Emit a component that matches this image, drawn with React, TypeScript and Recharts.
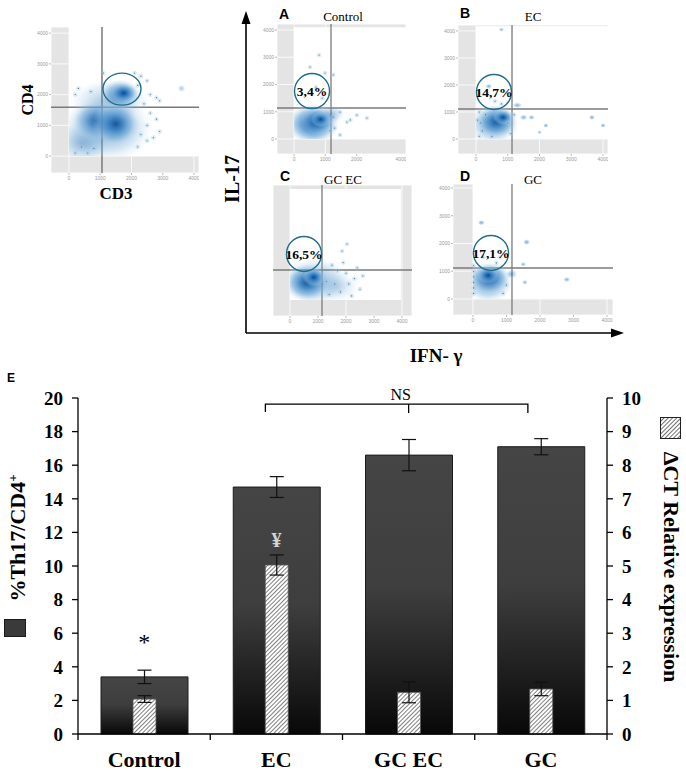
import React from "react";
import {
  ScatterChart,
  Scatter,
  XAxis,
  YAxis,
  CartesianGrid,
  ReferenceLine,
  ReferenceArea,
  ReferenceDot,
  ComposedChart,
  Bar,
  ErrorBar,
} from "recharts";

const SERIF = "'Liberation Serif', 'Times New Roman', serif";
const SANS = "'Liberation Sans', Arial, sans-serif";

// ---- panel E: bar chart data ----
const groups = ["Control", "EC", "GC EC", "GC"];
const th17Pct = [3.4, 14.7, 16.6, 17.1];
const th17Err = [0.4, 0.62, 0.93, 0.48];
const dctExpr = [1.04, 5.03, 1.24, 1.34];
const dctErr = [0.1, 0.3, 0.31, 0.2];
const pctTicks = [0, 2, 4, 6, 8, 10, 12, 14, 16, 18, 20];
const dctTicks = [0, 1, 2, 3, 4, 5, 6, 7, 8, 9, 10];

// ---- flow cytometry panels ----
const flowTicks = [0, 1000, 2000, 3000, 4000];
// density blobs: x, y, spread x, spread y, weight
const cd3cd4Blobs = [
  [1200, 900, 1500, 1100, 0.5],
  [1300, 1800, 1300, 700, 0.3],
  [400, 400, 900, 700, 0.35],
  [850, 1150, 750, 650, 0.75],
  [1500, 1050, 750, 700, 0.9],
  [1650, 2000, 650, 500, 0.8],
  [1750, 2050, 420, 320, 1],
  [3600, 2200, 130, 130, 0.3],
];
const cd3cd4Dots = [
  [2300, 2600], [2500, 2450], [2200, 2300], [2600, 2000], [2800, 1900], [2900, 1800],
  [2400, 1700], [2600, 1400], [2800, 1200], [2500, 1000], [2900, 800], [2300, 700],
  [2500, 500], [2700, 600], [2200, 300], [400, 300], [200, 100], [600, 100],
  [800, 250], [300, 2200], [200, 2000], [700, 2100], [2100, 2700], [1100, 2700],
];
const controlBlobs = [
  [600, 550, 850, 750, 1],
  [750, 650, 550, 500, 0.9],
  [1200, 900, 400, 350, 0.35],
  [850, 720, 320, 280, 1],
];
const controlDots = [
  [800, 3080], [510, 2640], [990, 2420], [1250, 2350], [700, 1900], [900, 1500],
  [1470, 990], [2010, 880], [2330, 770], [1690, 620], [1470, 150], [1300, 400],
  [1250, 800], [1800, 700], [1150, 300],
];
const ecBlobs = [
  [550, 550, 800, 750, 0.6],
  [650, 650, 650, 600, 0.85],
  [850, 800, 320, 280, 1],
  [2200, 500, 90, 90, 0.5],
  [2000, 250, 80, 80, 0.4],
  [3650, 800, 100, 100, 0.5],
  [4000, 500, 90, 90, 0.5],
  [1500, 800, 130, 110, 0.45],
  [1750, 800, 110, 100, 0.45],
  [1300, 1250, 160, 110, 0.45],
  [400, 1950, 120, 100, 0.45],
  [800, 4050, 90, 90, 0.4],
];
const ecDots = [
  [100, 100], [200, 300], [150, 600], [300, 900], [100, 1000], [500, 100],
  [1100, 200], [1000, 600], [1200, 900], [50, 700], [800, 1300], [600, 1400],
];
const gcecBlobs = [
  [900, 700, 1200, 900, 0.45],
  [1700, 500, 800, 600, 0.2],
  [600, 650, 800, 700, 0.9],
  [850, 850, 400, 350, 1],
];
const gcecDots = [
  [2036, 2090], [1860, 1830], [1500, 1300], [1700, 1100], [2000, 1000], [2300, 800],
  [2100, 600], [2500, 400], [1800, 300], [1400, 200], [2600, 900], [1300, 700],
  [1600, 600], [2200, 150], [1900, 1400], [2400, 1200],
];
const gcBlobs = [
  [450, 600, 750, 750, 0.6],
  [500, 750, 600, 550, 0.85],
  [450, 850, 320, 300, 1],
  [250, 2750, 110, 100, 0.5],
  [1600, 2050, 110, 110, 0.5],
  [1500, 1250, 90, 90, 0.45],
  [1550, 600, 90, 90, 0.45],
  [2800, 700, 110, 100, 0.45],
  [1150, 900, 180, 180, 0.4],
];
const gcDots = [
  [20, 200], [20, 400], [20, 600], [20, 800], [20, 1000], [20, 1200],
  [900, 200], [1000, 500], [700, 1300], [300, 1500], [800, 1500],
];
const gatePcts = ["", "3,4%", "14,7%", "16,5%", "17,1%"];
const gateCenters = [[1696, 2179], [575, 1761], [567, 1741], [500, 1720], [537, 1658]];
const quadrantCuts = [[1056, 1593], [1182, 1138], [1134, 1111], [1143, 1121], [1164, 1117]];
const panelTitles = ["", "Control", "EC", "GC EC", "GC"];
const panelLetters = ["", "A", "B", "C", "D"];

const Y_W = 18;
const X_H = 12;

type Panel = {
  id: string;
  left: number;
  top: number;
  w: number;
  h: number;
  xDomain: [number, number];
  yDomain: [number, number];
  white: [number, number];
  blobs: number[][];
  dots: number[][];
  idx: number;
  showY: boolean;
};

const panels: Panel[] = [
  { id: "p0", left: 51, top: 27, w: 148, h: 146, xDomain: [-575, 4160], yDomain: [-550, 4200], white: [4160, 4200], blobs: cd3cd4Blobs, dots: cd3cd4Dots, idx: 0, showY: true },
  { id: "pa", left: 277, top: 24, w: 129, h: 130, xDomain: [-545, 3580], yDomain: [-550, 4220], white: [3580, 4100], blobs: controlBlobs, dots: controlDots, idx: 1, showY: true },
  { id: "pb", left: 458, top: 25, w: 150, h: 129, xDomain: [-567, 4157], yDomain: [-555, 4220], white: [4157, 4170], blobs: ecBlobs, dots: ecDots, idx: 2, showY: true },
  { id: "pc", left: 273, top: 185, w: 139, h: 131, xDomain: [-607, 4357], yDomain: [-600, 4300], white: [3960, 4150], blobs: gcecBlobs, dots: gcecDots, idx: 3, showY: false },
  { id: "pd", left: 453, top: 184, w: 160, h: 131, xDomain: [-597, 4180], yDomain: [-577, 4144], white: [4180, 4144], blobs: gcBlobs, dots: gcDots, idx: 4, showY: true },
];

function FlowPanel({ p }: { p: Panel }) {
  const kx = p.w / (p.xDomain[1] - p.xDomain[0]);
  const ky = p.h / (p.yDomain[1] - p.yDomain[0]);
  const blobData = p.blobs.map(([x, y, sx, sy, a]) => ({ x, y, sx, sy, a }));
  const dotData = p.dots.map(([x, y]) => ({ x, y }));
  const [gx, gy] = gateCenters[p.idx];
  const [vx, hy] = quadrantCuts[p.idx];
  const isMain = p.idx === 0;
  const tickStyle = { fontSize: 5, fill: "#9a9a9a", fontFamily: SANS };
  // events sit in the non-negative data region; clip the density to it
  const clipX = Y_W + (0 - p.xDomain[0]) * kx;
  const clipY = (p.yDomain[1] - p.white[1]) * ky;
  const clipW = p.white[0] * kx;
  const clipH = p.white[1] * ky;
  return (
    <div style={{ position: "absolute", left: p.left - Y_W, top: p.top }}>
      <ScatterChart width={p.w + Y_W} height={p.h + X_H} margin={{ top: 0, right: 0, bottom: 0, left: 0 }}>
        <defs>
          <radialGradient id={`blob-${p.id}`}>
            <stop offset="0" stopColor="#0a4a90" stopOpacity={1} />
            <stop offset="0.3" stopColor="#2a78bd" stopOpacity={0.9} />
            <stop offset="0.65" stopColor="#6aa6d6" stopOpacity={0.6} />
            <stop offset="1" stopColor="#c6dbef" stopOpacity={0} />
          </radialGradient>
          <clipPath id={`clip-${p.id}`}>
            <rect x={clipX} y={clipY} width={clipW} height={clipH} />
          </clipPath>
        </defs>
        <CartesianGrid fill="#e4e4e4" stroke="#ffffff" strokeWidth={0.8} />
        <XAxis
          type="number"
          dataKey="x"
          domain={p.xDomain}
          ticks={flowTicks}
          allowDataOverflow
          height={X_H}
          axisLine={false}
          tickSize={2}
          tickMargin={1}
          tickLine={{ stroke: "#bbb" }}
          tick={tickStyle}
        />
        <YAxis
          type="number"
          dataKey="y"
          domain={p.yDomain}
          ticks={flowTicks}
          allowDataOverflow
          width={Y_W}
          axisLine={false}
          tickSize={2}
          tickMargin={1}
          tickLine={{ stroke: "#bbb" }}
          tick={p.showY ? tickStyle : false}
        />
        <ReferenceArea x1={0} x2={p.white[0]} y1={0} y2={p.white[1]} fill="#ffffff" fillOpacity={1} stroke="none" ifOverflow="hidden" />
        <Scatter
          data={blobData}
          isAnimationActive={false}
          shape={(s: any) => (
            <ellipse
              cx={s.cx}
              cy={s.cy}
              rx={s.payload.sx * kx}
              ry={s.payload.sy * ky}
              fill={`url(#blob-${p.id})`}
              opacity={s.payload.a}
              clipPath={`url(#clip-${p.id})`}
            />
          )}
        />
        <Scatter
          data={dotData}
          isAnimationActive={false}
          shape={(s: any) => (
            <g>
              <circle cx={s.cx} cy={s.cy} r={2.4} fill="#9ecae1" fillOpacity={0.35} />
              <circle cx={s.cx} cy={s.cy} r={0.6} fill="#4a6f96" />
            </g>
          )}
        />
        <ReferenceLine x={vx} stroke="#7a7a7a" strokeWidth={isMain ? 1.5 : 1.3} />
        <ReferenceLine y={hy} stroke="#7a7a7a" strokeWidth={isMain ? 1.5 : 1.3} />
        <ReferenceDot
          x={gx}
          y={gy}
          r={18}
          shape={(s: any) => (
            <g>
              {isMain ? (
                <ellipse cx={s.cx} cy={s.cy} rx={19} ry={16} fill="none" stroke="#1f6f8b" strokeWidth={1.4} />
              ) : (
                <circle cx={s.cx} cy={s.cy} r={17.5} fill="none" stroke="#1f6f8b" strokeWidth={1.4} />
              )}
              <text
                x={s.cx}
                y={s.cy + 5}
                textAnchor="middle"
                fontFamily={SERIF}
                fontWeight={700}
                fontSize={13.5}
                fill="#000"
              >
                {gatePcts[p.idx]}
              </text>
            </g>
          )}
        />
      </ScatterChart>
    </div>
  );
}

// ---- panel E helpers ----
const barData = groups.map((g, i) => ({
  group: g,
  th17: th17Pct[i],
  th17Err: th17Err[i],
  dct: dctExpr[i],
  dctErr: dctErr[i],
}));

const E_LEFT = 38;
const E_RIGHT = 39;
const E_AXIS_W = 40;
const E_WIDTH = 686;
const BAND = (E_WIDTH - E_LEFT - E_RIGHT - 2 * E_AXIS_W) / groups.length;

function CategoryTick(props: any) {
  const { x, y, payload, index } = props;
  const axisY = y - 6;
  return (
    <g>
      <line x1={x - BAND / 2} y1={axisY} x2={x - BAND / 2} y2={axisY + 6} stroke="#000" strokeWidth={1.3} />
      {index === groups.length - 1 && (
        <line x1={x + BAND / 2} y1={axisY} x2={x + BAND / 2} y2={axisY + 6} stroke="#000" strokeWidth={1.3} />
      )}
      <text x={x} y={axisY + 33} textAnchor="middle" fontFamily={SERIF} fontWeight={700} fontSize={22} fill="#000">
        {payload.value}
      </text>
    </g>
  );
}

const axisTick = { fontSize: 19, fontWeight: 700, fill: "#000", fontFamily: SERIF };

function HatchSwatch({ w, h }: { w: number; h: number }) {
  return (
    <svg width={w} height={h} style={{ display: "block" }}>
      <defs>
        <pattern id="hatch-swatch" patternUnits="userSpaceOnUse" width="3" height="3" patternTransform="rotate(45)">
          <rect width="3" height="3" fill="#fff" />
          <line x1="0" y1="0" x2="0" y2="3" stroke="#333" strokeWidth="1.4" />
        </pattern>
      </defs>
      <rect x={0.5} y={0.5} width={w - 1} height={h - 1} fill="url(#hatch-swatch)" stroke="#222" strokeWidth={1} />
    </svg>
  );
}

function rotLabel(cx: number, cy: number, deg: number, size: number, content: React.ReactNode, extra: React.CSSProperties = {}) {
  return (
    <div
      style={{
        position: "absolute",
        left: cx,
        top: cy,
        transform: `translate(-50%, -50%) rotate(${deg}deg)`,
        whiteSpace: "nowrap",
        fontFamily: SERIF,
        fontWeight: 700,
        fontSize: size,
        lineHeight: 1,
        color: "#000",
        ...extra,
      }}
    >
      {content}
    </div>
  );
}

export default function App() {
  return (
    <div style={{ position: "absolute", left: 0, top: 0, width: 686, height: 772, background: "#fff", overflow: "hidden" }}>
      {/* big IL-17 / IFN-γ axes */}
      <svg width={686} height={360} style={{ position: "absolute", left: 0, top: 0 }}>
        <line x1={246} y1={333} x2={246} y2={22} stroke="#000" strokeWidth={1.6} />
        <polygon points="246,11 241.5,24 250.5,24" fill="#000" />
        <line x1={246} y1={333} x2={613} y2={333} stroke="#000" strokeWidth={1.6} />
        <polygon points="624,333 611,328.5 611,337.5" fill="#000" />
      </svg>

      {panels.map((p) => (
        <FlowPanel key={p.id} p={p} />
      ))}

      {/* flow panel labels */}
      {rotLabel(28, 100, -90, 16, "CD4")}
      {rotLabel(116, 193, 0, 17, "CD3")}
      {rotLabel(232, 179, -90, 20, "IL-17")}
      {rotLabel(436, 355, 0, 19, "IFN- γ")}
      {panels.slice(1).map((p, i) => (
        <React.Fragment key={p.id}>
          {rotLabel([284, 465, 285, 465][i], [14, 13, 176, 176][i], 0, 14, panelLetters[p.idx], { fontFamily: SANS })}
          {rotLabel([343, 533, 343, 533][i], [16, 16, 179, 179][i], 0, 13, panelTitles[p.idx], { fontWeight: 400 })}
        </React.Fragment>
      ))}

      {/* panel E */}
      {rotLabel(11, 378, 0, 12, "E", { fontFamily: SANS })}
      <div style={{ position: "absolute", left: 0, top: 370 }}>
        <ComposedChart
          width={E_WIDTH}
          height={402}
          data={barData}
          margin={{ top: 28, right: E_RIGHT, left: E_LEFT, bottom: 0 }}
        >
          <defs>
            <linearGradient id="darkBar" x1="0" y1="0" x2="0" y2="1">
              <stop offset="0" stopColor="#454545" />
              <stop offset="0.48" stopColor="#3e3e3e" />
              <stop offset="1" stopColor="#080808" />
            </linearGradient>
            <pattern id="hatch" patternUnits="userSpaceOnUse" width="3" height="3" patternTransform="rotate(45)">
              <rect width="3" height="3" fill="#fff" />
              <line x1="0" y1="0" x2="0" y2="3" stroke="#4a4a4a" strokeWidth="1.4" />
            </pattern>
          </defs>
          <XAxis
            xAxisId="main"
            dataKey="group"
            height={38}
            interval={0}
            axisLine={{ stroke: "#000", strokeWidth: 1.3 }}
            tickLine={false}
            tickSize={6}
            tickMargin={0}
            tick={<CategoryTick />}
          />
          <XAxis xAxisId="inner" dataKey="group" hide height={0} />
          <YAxis
            yAxisId="pct"
            domain={[0, 20]}
            ticks={pctTicks}
            interval={0}
            width={E_AXIS_W}
            tickSize={6}
            tickMargin={9}
            axisLine={{ stroke: "#000", strokeWidth: 1.3 }}
            tickLine={{ stroke: "#000", strokeWidth: 1.3 }}
            tick={axisTick}
          />
          <YAxis
            yAxisId="dct"
            orientation="right"
            domain={[0, 10]}
            ticks={dctTicks}
            interval={0}
            width={E_AXIS_W}
            tickSize={6}
            tickMargin={9}
            axisLine={{ stroke: "#000", strokeWidth: 1.3 }}
            tickLine={{ stroke: "#000", strokeWidth: 1.3 }}
            tick={axisTick}
          />
          <Bar
            xAxisId="main"
            yAxisId="pct"
            dataKey="th17"
            barSize={87}
            fill="url(#darkBar)"
            stroke="#1c1c1c"
            strokeWidth={1}
            isAnimationActive={false}
          >
            <ErrorBar dataKey="th17Err" width={7} stroke="#111" strokeWidth={1.2} direction="y" />
          </Bar>
          <Bar
            xAxisId="inner"
            yAxisId="dct"
            dataKey="dct"
            barSize={23}
            fill="url(#hatch)"
            stroke="#555"
            strokeWidth={0.8}
            isAnimationActive={false}
          >
            <ErrorBar dataKey="dctErr" width={7} stroke="#111" strokeWidth={1.2} direction="y" />
          </Bar>
          <ReferenceDot
            xAxisId="main"
            yAxisId="pct"
            x="Control"
            y={5.73}
            r={1}
            shape={(s: any) => (
              <text x={s.cx} y={s.cy + 12} textAnchor="middle" fontFamily={SERIF} fontSize={24} fill="#000">
                *
              </text>
            )}
          />
          <ReferenceDot
            xAxisId="main"
            yAxisId="pct"
            x="EC"
            y={11.55}
            r={1}
            shape={(s: any) => (
              <text x={s.cx} y={s.cy + 7} textAnchor="middle" fontFamily={SERIF} fontWeight={700} fontSize={20} fill="#d4d4d4">
                ¥
              </text>
            )}
          />
          <ReferenceLine
            xAxisId="main"
            yAxisId="pct"
            segment={[
              { x: "EC", y: 19.64 },
              { x: "GC", y: 19.64 },
            ]}
            shape={(s: any) => {
              const l = s.x1 - 11;
              const r = s.x2 - 13;
              const m = (s.x1 + s.x2) / 2;
              return (
                <g>
                  <polyline points={`${l},${s.y1 + 8} ${l},${s.y1} ${r},${s.y1} ${r},${s.y1 + 9}`} fill="none" stroke="#000" strokeWidth={1.3} />
                  <line x1={m} y1={s.y1} x2={m} y2={s.y1 + 9} stroke="#000" strokeWidth={1.3} />
                  <text x={m - 8} y={s.y1 - 4} textAnchor="middle" fontFamily={SERIF} fontSize={16} fill="#000">
                    NS
                  </text>
                </g>
              );
            }}
          />
        </ComposedChart>
      </div>

      {/* axis labels with legend swatches */}
      {rotLabel(18, 538, -90, 22, (
        <span>
          %Th17/CD4<sup style={{ fontSize: 13, verticalAlign: "super", lineHeight: 0 }}>+</sup>
        </span>
      ))}
      <div style={{ position: "absolute", left: 4, top: 619, width: 22, height: 18, background: "#3a3a3a", border: "1px solid #1a1a1a", boxSizing: "border-box" }} />
      <div style={{ position: "absolute", left: 660, top: 417 }}>
        <HatchSwatch w={21} h={22} />
      </div>
      {rotLabel(671, 567, 90, 22, "ΔCT Relative expression")}
    </div>
  );
}
